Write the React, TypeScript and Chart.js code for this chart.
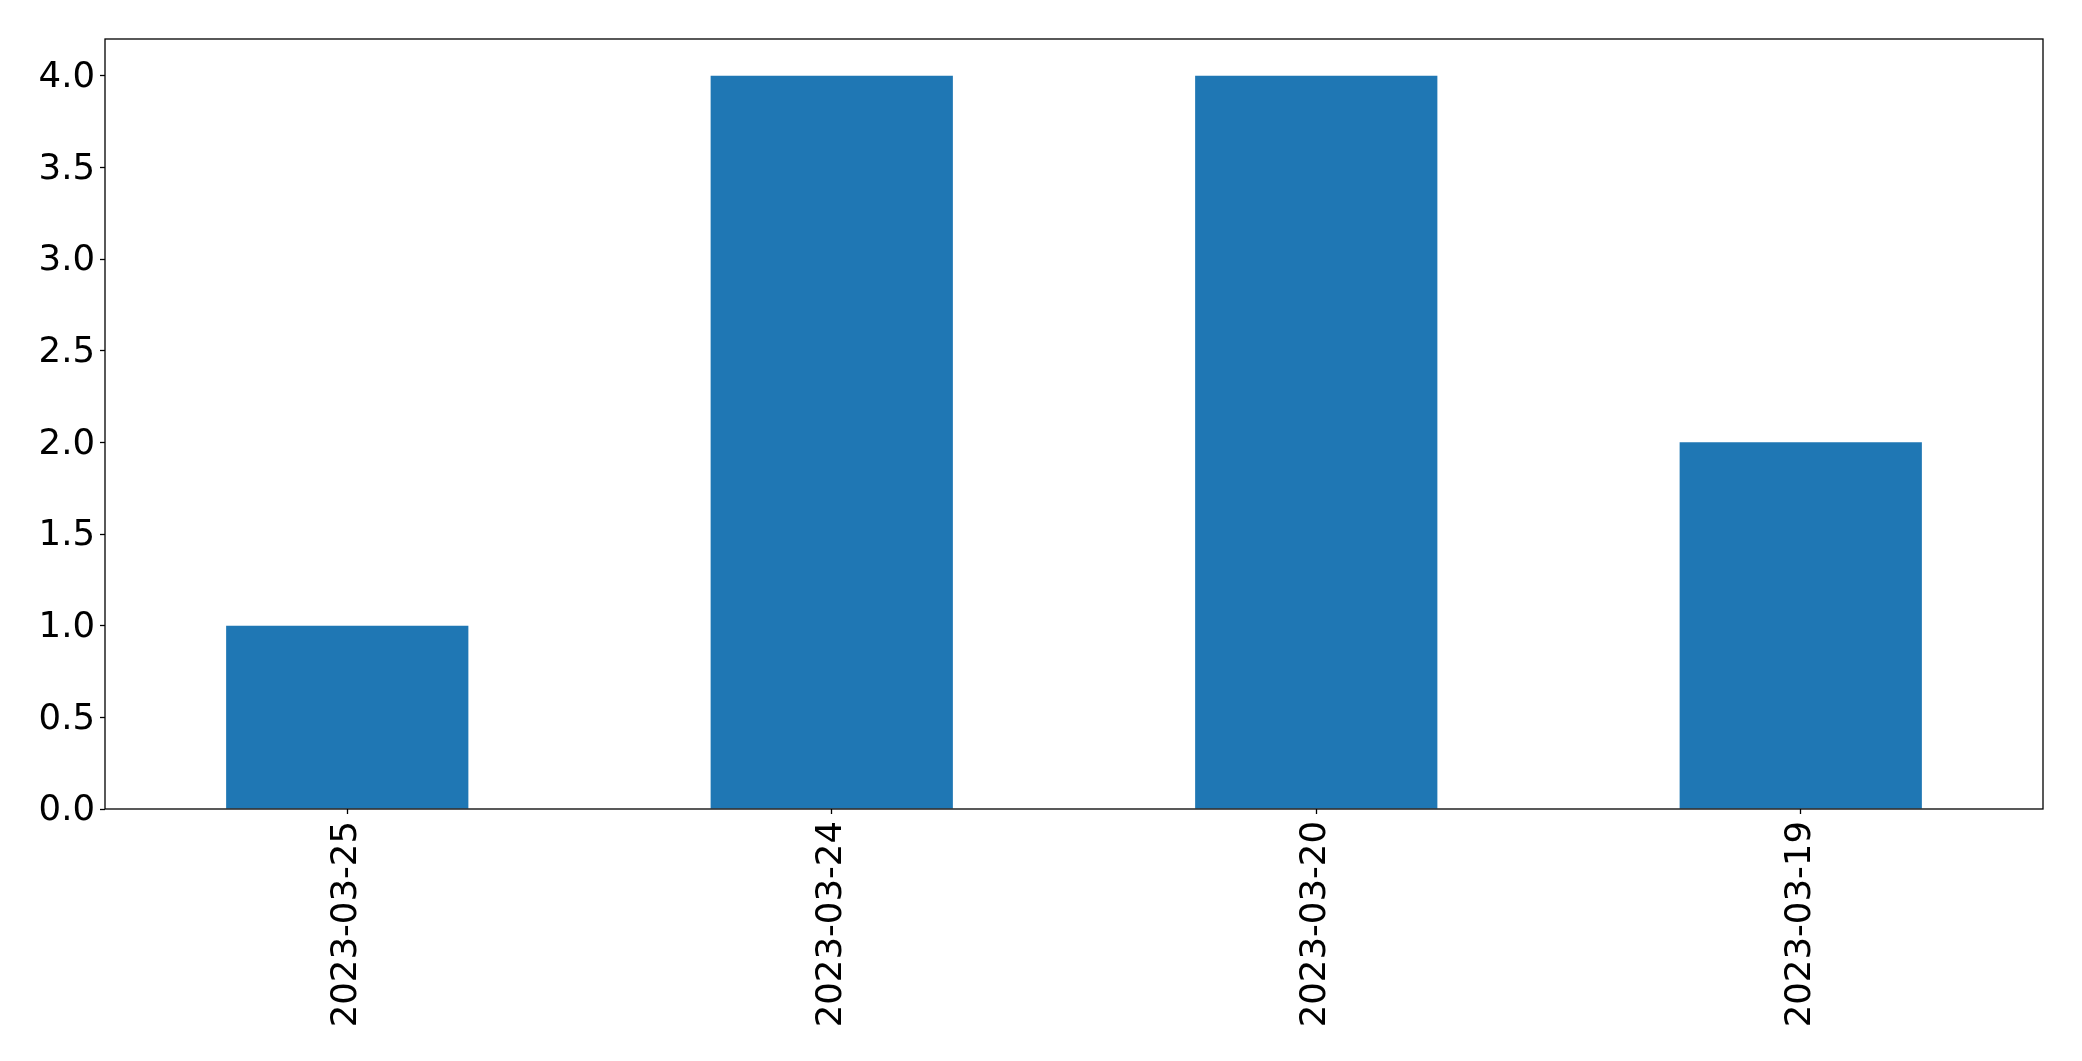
import React, { useEffect, useRef } from "react";
import { Chart, registerables } from "chart.js";

Chart.register(...registerables);

const categories = ["2023-03-25", "2023-03-24", "2023-03-20", "2023-03-19"];
const values = [1, 4, 4, 2];
const yMin = 0;
const yMax = 4.2;
const yStep = 0.5;

const W = 2082;
const H = 1061;
const FONT = "'DejaVu Sans', sans-serif";

const framePlugin = {
  id: "frame",
  afterDatasetsDraw(chart: any) {
    const { ctx, chartArea } = chart;
    ctx.save();
    ctx.strokeStyle = "#000";
    ctx.lineWidth = 1.3;
    ctx.strokeRect(chartArea.left, chartArea.top, chartArea.right - chartArea.left, chartArea.bottom - chartArea.top);
    ctx.restore();
  },
};

export default function App() {
  const ref = useRef<HTMLCanvasElement>(null);
  useEffect(() => {
    document.body.style.margin = "0";
    const chart = new Chart(ref.current!, {
      type: "bar",
      data: {
        labels: categories,
        datasets: [
          {
            data: values,
            backgroundColor: "#1f77b4",
            borderWidth: 0,
            categoryPercentage: 1,
            barPercentage: 0.5,
          },
        ],
      },
      options: {
        responsive: false,
        animation: false,
        devicePixelRatio: 1,
        layout: { padding: { top: 39, right: 39, left: 0, bottom: 0 } },
        plugins: { legend: { display: false }, tooltip: { enabled: false } },
        scales: {
          x: {
            offset: true,
            grid: { display: true, drawOnChartArea: false, drawTicks: true, tickLength: 5, tickColor: "#000", tickWidth: 1.3, offset: false },
            border: { display: false },
            ticks: { color: "#000", font: { family: FONT, size: 35.5 }, minRotation: 90, maxRotation: 90, padding: 7, autoSkip: false },
            afterFit(scale: any) { scale.height = 252; },
          },
          y: {
            min: yMin,
            max: yMax,
            grid: { display: true, drawOnChartArea: false, drawTicks: true, tickLength: 5, tickColor: "#000", tickWidth: 1.3 },
            border: { display: false },
            ticks: {
              stepSize: yStep,
              includeBounds: false,
              color: "#000",
              font: { family: FONT, size: 35.5 },
              padding: 5,
              labelOffset: 2,
              callback: (v: any) => Number(v).toFixed(1),
            },
            afterBuildTicks(scale: any) {
              scale.ticks = scale.ticks.filter((t: any) => Math.abs(Math.round(t.value / yStep) * yStep - t.value) < 1e-9);
            },
            afterFit(scale: any) { scale.width = 105; },
          },
        },
      },
      plugins: [framePlugin],
    });
    return () => chart.destroy();
  }, []);
  return (
    <div style={{ width: W, height: H, background: "#fff" }}>
      <canvas ref={ref} width={W} height={H} style={{ display: "block" }} />
    </div>
  );
}
